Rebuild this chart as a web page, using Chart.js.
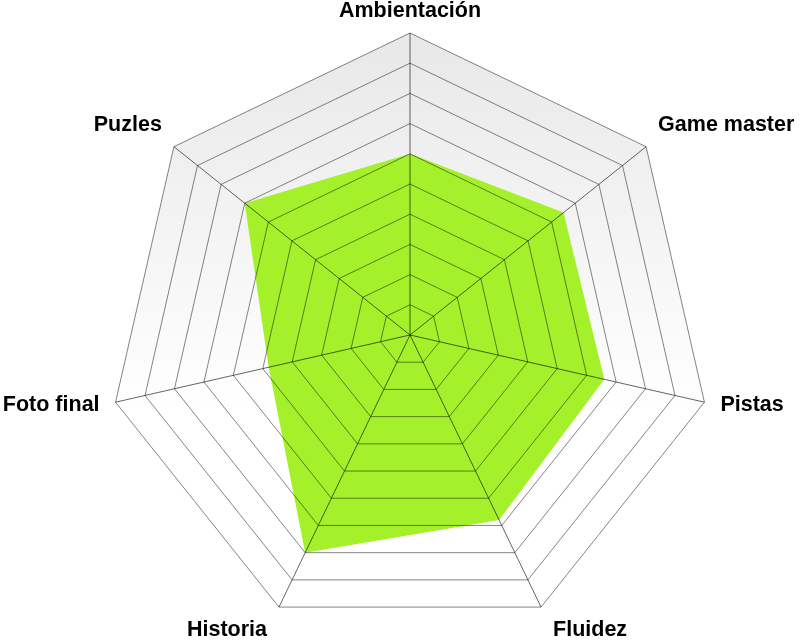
<!DOCTYPE html>
<html>
<head>
<meta charset="utf-8">
<script src="https://cdn.jsdelivr.net/npm/chart.js@4/dist/chart.umd.min.js"></script>
<style>
    html, body { margin: 0; padding: 0; background: #fff; }
    #wrap { width: 800px; height: 640px; }
</style>
</head>
<body>
<div id="wrap"><canvas id="radar"></canvas></div>
<script>
const CATEGORIES = ['Ambientación', 'Game master', 'Pistas', 'Fluidez', 'Historia', 'Foto final', 'Puzles'];
const SCORES     = [6, 6.5, 6.6, 6.8, 8, 4.8, 7];
const SCALE_MIN  = 0;
const SCALE_MAX  = 10;
const SCALE_STEP = 1;

const LABEL_FONT = 'bold 21.5px "Liberation Sans", Arial, sans-serif';

// light grey at the top of the web fading to white lower down
const webBackground = {
    id: 'webBackground',
    beforeDatasetsDraw(chart) {
        const r   = chart.scales.r;
        const ctx = chart.ctx;
        const n   = chart.data.labels.length;
        const top = r.yCenter - r.drawingArea;

        const grad = ctx.createLinearGradient(0, top, 0, r.yCenter + r.drawingArea * 0.25);
        grad.addColorStop(0, '#e8e8e8');
        grad.addColorStop(1, '#ffffff');

        ctx.save();
        ctx.beginPath();
        for (let i = 0; i < n; i++) {
            const p = r.getPointPosition(i, r.drawingArea);
            if (i === 0) ctx.moveTo(p.x, p.y);
            else ctx.lineTo(p.x, p.y);
        }
        ctx.closePath();
        ctx.fillStyle = grad;
        ctx.fill();
        ctx.restore();
    },
};

// category names sit just outside the outer ring, placed from the scale's own vertices
const outerLabels = {
    id: 'outerLabels',
    afterDraw(chart) {
        const r   = chart.scales.r;
        const ctx = chart.ctx;

        ctx.save();
        ctx.font         = LABEL_FONT;
        ctx.fillStyle    = '#000';
        ctx.textBaseline = 'middle';

        chart.data.labels.forEach((label, i) => {
            const p  = r.getPointPosition(i, r.drawingArea);
            const nx = (p.x - r.xCenter) / r.drawingArea;
            const ny = (p.y - r.yCenter) / r.drawingArea;

            let x = p.x, y = p.y + 3, align = 'center';
            const gap = Math.abs(ny) > 0.5 ? 12 : 16;
            if (nx > 0.1)       { align = 'left';  x = p.x + gap; }
            else if (nx < -0.1) { align = 'right'; x = p.x - gap; }

            if (ny < -0.5)     y = p.y - 22;
            else if (ny > 0.5) y = p.y + 22.5;

            ctx.textAlign = align;
            ctx.fillText(label, x, y);
        });
        ctx.restore();
    },
};

new Chart(document.getElementById('radar'), {
    type: 'radar',
    data: {
        labels: CATEGORIES,
        datasets: [{
            data:             SCORES,
            backgroundColor:  '#a4f02a',
            borderWidth:      0,
            pointRadius:      0,
            pointHoverRadius: 0,
        }],
    },
    options: {
        responsive:          true,
        maintainAspectRatio: false,
        animation:           false,
        layout:  { padding: { top: 33, bottom: 3, left: 20, right: 0 } },
        plugins: { legend: { display: false }, tooltip: { enabled: false } },
        elements: { line: { tension: 0 } },
        scales: {
            r: {
                min: SCALE_MIN,
                max: SCALE_MAX,
                ticks: { display: false, stepSize: SCALE_STEP },
                grid: {
                    z:         1,
                    color:     'rgba(0,0,0,0.48)',
                    lineWidth: 1,
                },
                angleLines: {
                    color:     'rgba(0,0,0,0.6)',
                    lineWidth: 1,
                },
                pointLabels: { display: false },
            },
        },
    },
    plugins: [webBackground, outerLabels],
});
</script>
</body>
</html>
